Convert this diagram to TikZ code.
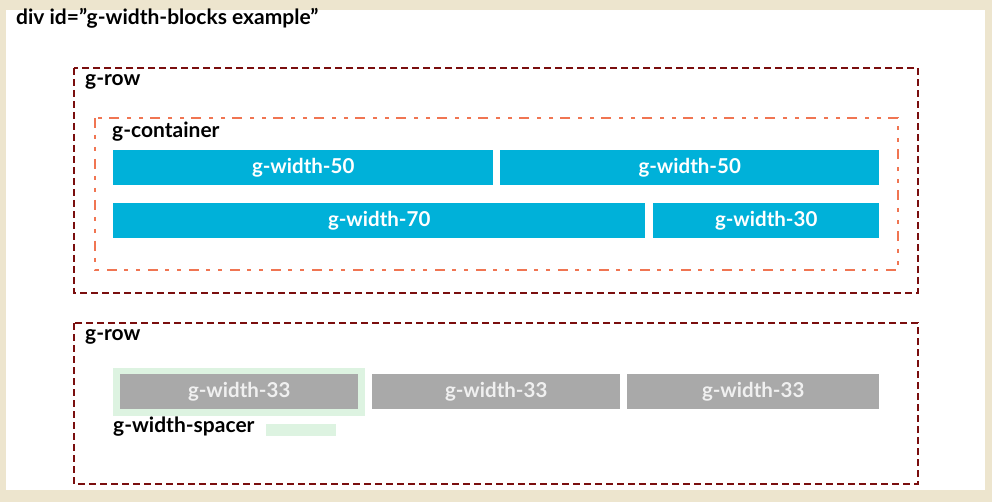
\documentclass[tikz,border=0pt]{standalone}
\usepackage{fontspec}
\setmainfont{Lato}
\definecolor{paper}{HTML}{EDE5CE}
\definecolor{rowred}{HTML}{7A0E0E}
\definecolor{contorange}{HTML}{F07552}
\definecolor{blkblue}{HTML}{00B1D9}
\definecolor{blkgray}{HTML}{A9A9A9}
\definecolor{spacergreen}{HTML}{DDF3E1}

\begin{document}
\begin{tikzpicture}[x=1pt,y=-1pt,
    rowbox/.style={draw=rowred,line width=1.6pt,dash pattern=on 7pt off 4pt},
    contbox/.style={draw=contorange,line width=1.6pt,dash pattern=on 10pt off 7pt on 4pt off 8pt on 4pt off 8pt},
    lbl/.style={anchor=base west,inner sep=0pt,font=\fontsize{21}{24}\selectfont\bfseries},
    blk/.style={anchor=north west,inner sep=0pt,minimum height=35,font=\fontsize{20.5}{24}\selectfont\bfseries,text=white},
    bluebox/.style={blk,fill=blkblue},
    graybox/.style={blk,fill=blkgray,text=white!94!black}]
  % page
  \fill[paper] (0,0) rectangle (992,502);
  \fill[white] (6,10) rectangle (985,490);
  \useasboundingbox (0,0) rectangle (992,502);
  \node[lbl] (title) at (16,24.5) {div id=”g-width-blocks example”};

  % first row
  \draw[rowbox] (74,68) rectangle (918,293);
  \node[lbl] (row1) at (85,85.5) {g-row};
  \draw[contbox] (95,118) rectangle (898,270);
  \node[lbl] (cont) at (112,137.5) {g-container};
  \node[bluebox,minimum width=380] (w50a) at (113,150) {g-width-50};
  \node[bluebox,minimum width=379] (w50b) at (500,150) {g-width-50};
  \node[bluebox,minimum width=532] (w70) at (113,203) {g-width-70};
  \node[bluebox,minimum width=226] (w30) at (653,203) {g-width-30};

  % second row
  \draw[rowbox] (74,323) rectangle (918,484);
  \node[lbl] (row2) at (85,340.5) {g-row};
  \fill[spacergreen] (113,368) rectangle (365,416);
  \node[graybox,minimum width=238] (w33a) at (120,374) {g-width-33};
  \node[graybox,minimum width=248] (w33b) at (372,374) {g-width-33};
  \node[graybox,minimum width=252] (w33c) at (627,374) {g-width-33};
  \node[lbl] (spacer) at (113,432) {g-width-spacer};
  \fill[spacergreen] (266,424) rectangle (336,436);
\end{tikzpicture}
\end{document}
